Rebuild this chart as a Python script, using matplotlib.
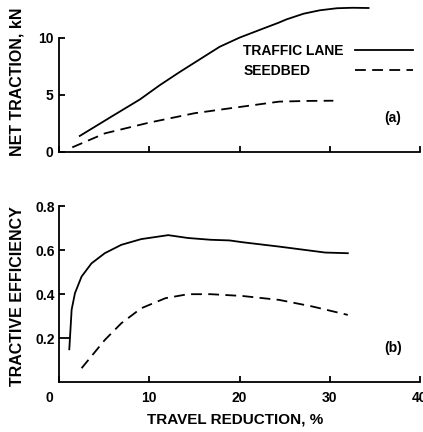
import matplotlib.pyplot as plt
from matplotlib.transforms import ScaledTranslation

plt.rcParams['font.family'] = ['Liberation Sans', 'DejaVu Sans']
plt.rcParams['font.weight'] = 'bold'
plt.rcParams['font.size'] = 10

# (a) net traction, kN
lane_x_a = [2.3, 4.0, 5.8, 8.0, 9.0, 10.0, 11.2, 13.4, 15.6, 17.8, 20.0, 22.3, 24.3,
            25.2, 27.1, 28.9, 30.8, 32.5, 34.3]
lane_y_a = [1.38, 2.2, 3.07, 4.12, 4.6, 5.17, 5.85, 7.0, 8.1, 9.2, 10.0, 10.7, 11.3,
            11.6, 12.1, 12.4, 12.58, 12.62, 12.6]
seed_x_a = [1.47, 5.1, 10.0, 15.0, 18.9, 20.3, 24.4, 27.5, 30.4]
seed_y_a = [0.38, 1.61, 2.55, 3.37, 3.8, 3.95, 4.39, 4.45, 4.47]

# (b) tractive efficiency
lane_x_b = [1.14, 1.4, 1.77, 2.5, 3.6, 5.07, 6.9, 9.1, 12.1, 14.3, 16.8, 18.9, 20.3, 24.4, 29.5, 32.0]
lane_y_b = [0.15, 0.33, 0.405, 0.48, 0.54, 0.586, 0.624, 0.65, 0.668, 0.655, 0.647, 0.644, 0.636, 0.616, 0.589, 0.586]
seed_x_b = [2.5, 5.07, 6.9, 9.1, 11.8, 14.3, 16.8, 20.3, 24.4, 28.1, 32.0]
seed_y_b = [0.064, 0.192, 0.268, 0.336, 0.382, 0.4, 0.4, 0.392, 0.374, 0.344, 0.306]

series_names = ['TRAFFIC LANE', 'SEEDBED']
x_ticks = [0, 10, 20, 30, 40]
lw = 1.3
dash = (6, 3.5)

fig = plt.figure(figsize=(4.23, 4.32), dpi=100)
ax_a = fig.add_axes([0.1395, 0.6489, 0.8534, 0.3484])
ax_b = fig.add_axes([0.1395, 0.115, 0.8534, 0.408])

for ax in (ax_a, ax_b):
    ax.spines['top'].set_visible(False)
    ax.spines['right'].set_visible(False)
    for s in ('left', 'bottom'):
        ax.spines[s].set_linewidth(lw)
    ax.set_xlim(0, 40)
    ax.set_xticks(x_ticks)
    ax.tick_params(direction='in', length=4, width=lw, pad=4)
    ax.tick_params(axis='x', pad=6)

ax_a.plot(lane_x_a, lane_y_a, color='black', lw=lw, clip_on=False)
ax_a.plot(seed_x_a, seed_y_a, color='black', lw=lw, dashes=dash, clip_on=False)
ax_a.set_ylim(0, 13.2)
ax_a.spines['left'].set_bounds(0, 10)
ax_a.set_yticks([0, 5, 10])
ax_a.set_xticklabels([])
ax_a.text(37.0, 2.96, '(a)', ha='center', va='center')

# key: names on the left, line samples on the right
key_rows = [0.669, 0.533]
for name, row, style in zip(series_names, key_rows, [None, dash]):
    ax_a.text(0.51, row, name, transform=ax_a.transAxes, ha='left', va='center')
    key, = ax_a.plot([0.82, 0.98], [row + 0.008, row + 0.008], color='black', lw=lw,
                     transform=ax_a.transAxes)
    if style:
        key.set_dashes(style)

ax_b.plot(lane_x_b, lane_y_b, color='black', lw=lw)
ax_b.plot(seed_x_b, seed_y_b, color='black', lw=lw, dashes=dash)
ax_b.set_ylim(0, 0.8)
ax_b.set_yticks([0.2, 0.4, 0.6, 0.8])
ax_b.set_yticklabels(['0.2', '0.4', '0.6', '0.8'])
ax_b.tick_params(axis='y', labelsize=10, pad=3)
ax_b.yaxis.get_major_ticks()[0].tick1line.set_markersize(8)
ax_b.text(37.0, 0.155, '(b)', ha='center', va='center')
fig.canvas.draw()
zero = ax_b.get_xticklabels()[0]
zero.set_transform(zero.get_transform() + ScaledTranslation(-0.1, 0, fig.dpi_scale_trans))

fig.text(17 / 423, 1 - 82 / 432, 'NET TRACTION, kN', rotation=90, ha='center', va='center', fontsize=11.5)
fig.text(17 / 423, 1 - 296 / 432, 'TRACTIVE EFFICIENCY', rotation=90, ha='center', va='center', fontsize=11.5)
fig.text(235 / 423, 1 - 420 / 432, 'TRAVEL REDUCTION, %', ha='center', va='center', fontsize=11)

fig.savefig('out.png', dpi=100)
